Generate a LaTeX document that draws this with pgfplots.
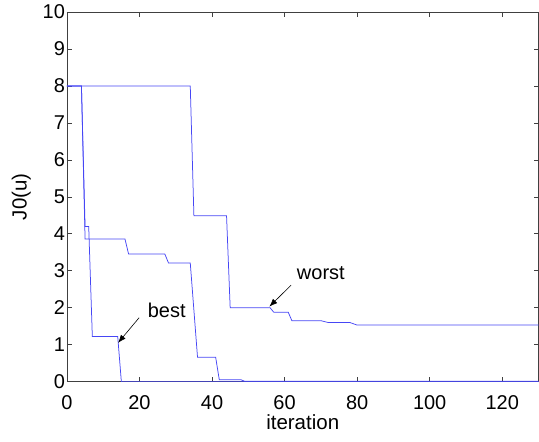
\documentclass[border=0pt]{standalone}
\usepackage{pgfplots}
\pgfplotsset{compat=1.18}
\usetikzlibrary{arrows.meta}
\usepackage{fontspec}
\setmainfont{Liberation Sans}
\definecolor{mblue}{RGB}{70,70,245}
\begin{document}
\begin{tikzpicture}
\begin{axis}[
  scale only axis,
  width=472pt, height=370pt,
  xmin=0, xmax=130, ymin=0, ymax=10,
  xtick={0,20,...,120}, ytick={0,1,...,10},
  tick align=inside,
  major tick length=5pt,
  axis line style={black!75, line width=0.6pt},
  tick style={black!75, line width=0.6pt},
  tick label style={font=\fontsize{20}{24}\selectfont},
  xticklabel style={yshift=-10pt},
  yticklabel style={xshift=1.5pt},
  label style={font=\fontsize{20.5}{24}\selectfont},
  /pgf/number format/assume math mode=true,
  xlabel={iteration}, ylabel={J0(u)},
  xlabel style={yshift=2pt},
  ylabel style={yshift=5pt},
  clip=true,
]
% best
\addplot[mblue, line width=0.75pt, no marks] coordinates {(0,8) (4,8) (5,4.2) (6,4.2) (7,1.22) (14,1.22) (15,0) (130,0)};
% middle
\addplot[mblue, line width=0.75pt, no marks] coordinates {(0,8) (4,8) (5,3.86) (16,3.86) (17,3.45) (27,3.45) (28,3.21) (34,3.21) (36,0.66) (41,0.66) (42,0.05) (48,0.05) (49,0.01) (130,0.01)};
% worst
\addplot[mblue, line width=0.75pt, no marks] coordinates {(0,8) (34,8) (35,4.49) (44,4.49) (45,2.0) (56,2.0) (57,1.88) (61,1.88) (62,1.65) (70,1.65) (72,1.6) (78,1.6) (80,1.53) (130,1.53)};
\draw[-{Latex[length=8pt,width=6pt]}, black, line width=0.6pt] (axis cs:19.9,1.73) -- (axis cs:14.1,1.05);
\node[font=\fontsize{20}{24}\selectfont] at (axis cs:27.5,1.92) {best};
\draw[-{Latex[length=8pt,width=6pt]}, black, line width=0.6pt] (axis cs:61.8,2.61) -- (axis cs:55.8,2.03);
\node[font=\fontsize{20}{24}\selectfont] at (axis cs:70,2.93) {worst};
\end{axis}
\pgfresetboundingbox
\path[use as bounding box] ([shift={(-67pt,-60pt)}]current axis.south west) rectangle ([shift={(0.5pt,12pt)}]current axis.north east);
\end{tikzpicture}
\end{document}
